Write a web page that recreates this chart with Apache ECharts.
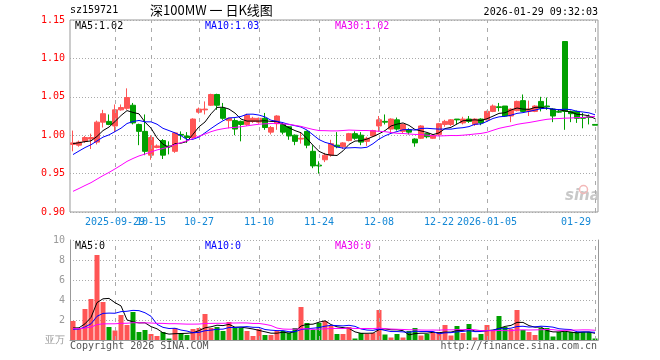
<!DOCTYPE html>
<html><head><meta charset="utf-8">
<script src="https://cdn.jsdelivr.net/npm/echarts@6/dist/echarts.min.js"></script>
<style>html,body{margin:0;padding:0;background:#fff}#c{width:660px;height:360px}</style>
</head><body><div id="c"></div>
<script>
const dates = [
 '2025-09-18','2025-09-19','2025-09-22','2025-09-23','2025-09-24','2025-09-25','2025-09-26','2025-09-29','2025-09-30',
 '2025-10-09','2025-10-10','2025-10-13','2025-10-14','2025-10-15','2025-10-16','2025-10-17','2025-10-20','2025-10-21','2025-10-22','2025-10-23','2025-10-24','2025-10-27','2025-10-28','2025-10-29','2025-10-30','2025-10-31',
 '2025-11-03','2025-11-04','2025-11-05','2025-11-06','2025-11-07','2025-11-10','2025-11-11','2025-11-12','2025-11-13','2025-11-14','2025-11-17','2025-11-18','2025-11-19','2025-11-20','2025-11-21','2025-11-24','2025-11-25','2025-11-26','2025-11-27','2025-11-28',
 '2025-12-01','2025-12-02','2025-12-03','2025-12-04','2025-12-05','2025-12-08','2025-12-09','2025-12-10','2025-12-11','2025-12-12','2025-12-15','2025-12-16','2025-12-17','2025-12-18','2025-12-19','2025-12-22','2025-12-23','2025-12-24','2025-12-25','2025-12-26','2025-12-29','2025-12-30','2025-12-31',
 '2026-01-05','2026-01-06','2026-01-07','2026-01-08','2026-01-09','2026-01-12','2026-01-13','2026-01-14','2026-01-15','2026-01-16','2026-01-19','2026-01-20','2026-01-21','2026-01-22','2026-01-23','2026-01-26','2026-01-27','2026-01-28','2026-01-29'
];
// [open, close, low, high]
const ohlc = [
 [0.988,0.990,0.979,1.006],[0.987,0.991,0.985,0.993],[0.992,0.997,0.990,0.999],[0.995,0.997,0.982,1.002],[0.991,1.017,0.988,1.019],
 [1.017,1.028,1.010,1.033],[1.018,1.014,1.013,1.027],[1.012,1.033,1.004,1.040],[1.033,1.036,1.032,1.040],[1.035,1.049,1.033,1.061],
 [1.039,1.016,1.014,1.042],[1.014,1.005,0.987,1.015],[1.005,0.979,0.974,1.027],[0.974,0.997,0.968,1.000],[0.984,0.986,0.983,0.988],
 [0.993,0.974,0.969,0.995],[0.986,0.985,0.975,0.992],[0.979,1.003,0.977,1.004],[1.001,1.000,0.994,1.005],[0.999,0.997,0.990,1.004],
 [0.997,1.021,0.996,1.022],[1.030,1.034,1.028,1.036],[1.033,1.034,1.027,1.044],[1.039,1.053,1.038,1.054],[1.053,1.039,1.033,1.054],
 [1.035,1.022,1.020,1.042],[1.019,1.022,1.009,1.023],[1.019,1.008,1.000,1.022],[1.018,1.014,0.992,1.019],[1.014,1.026,1.012,1.028],
 [1.018,1.022,1.016,1.024],[1.017,1.022,1.015,1.023],[1.022,1.010,1.007,1.029],[1.004,1.010,1.001,1.012],[1.015,1.025,1.007,1.026],
 [1.014,1.004,1.001,1.017],[1.011,0.999,0.994,1.012],[1.000,0.992,0.987,1.001],[0.995,0.996,0.989,1.003],[1.005,0.987,0.983,1.006],
 [0.979,0.960,0.957,0.987],[0.961,0.960,0.950,0.966],[0.968,0.974,0.965,0.977],[0.974,0.989,0.972,0.994],[0.987,0.985,0.983,1.004],
 [0.985,0.990,0.982,0.991],[0.993,1.002,0.992,1.003],[1.002,0.996,0.994,1.005],[1.000,0.991,0.987,1.004],[0.992,0.996,0.986,0.998],
 [0.999,1.006,0.998,1.007],[1.012,1.020,1.005,1.025],[1.018,1.017,1.014,1.027],[1.008,1.021,1.003,1.022],[1.020,1.008,1.006,1.023],
 [1.005,1.014,1.002,1.015],[1.007,1.004,1.001,1.009],[0.995,0.990,0.985,0.996],[0.996,1.012,0.995,1.013],[1.002,0.998,0.996,1.003],
 [0.996,1.000,0.995,1.001],[1.001,1.015,0.999,1.016],[1.014,1.018,1.011,1.020],[1.014,1.020,1.012,1.021],[1.021,1.020,1.014,1.021],
 [1.016,1.021,1.014,1.024],[1.021,1.018,1.016,1.025],[1.014,1.021,1.012,1.022],[1.021,1.016,1.013,1.022],[1.020,1.031,1.019,1.032],
 [1.031,1.038,1.030,1.040],[1.037,1.036,1.031,1.042],[1.038,1.025,1.024,1.038],[1.025,1.034,1.017,1.035],[1.032,1.044,1.031,1.045],
 [1.045,1.031,1.030,1.053],[1.031,1.034,1.025,1.045],[1.031,1.038,1.030,1.039],[1.044,1.035,1.031,1.050],[1.038,1.037,1.033,1.049],
 [1.034,1.025,1.017,1.035],[1.031,1.030,1.029,1.033],[1.122,1.031,1.007,1.122],[1.031,1.028,1.017,1.032],[1.031,1.022,1.016,1.032],
 [1.023,1.022,1.009,1.029],[1.024,1.023,1.014,1.027],[1.014,1.013,1.013,1.014]
];
// volume, 万
const volume = [
 1.9,1.1,3.1,4.1,8.5,3.8,1.3,0.95,2.5,1.5, 2.8,0.8,1.0,0.6,0.4,0.8,0.15,1.2,0.7,0.5,
 1.1,1.2,2.6,1.2,1.3,0.9,1.8,1.2,1.2,0.9, 0.4,1.1,0.5,0.5,0.9,0.9,0.7,1.2,3.3,1.7,
 1.0,1.7,1.9,1.4,0.6,0.6,1.3,0.15,0.7,0.6, 0.7,3.0,0.55,0.25,0.6,0.25,0.9,1.2,0.45,0.6,
 0.7,0.7,1.5,0.45,1.4,0.7,1.6,0.25,0.6,1.5, 1.0,2.4,1.3,1.1,3.0,1.0,0.8,0.5,1.2,1.2,
 0.35,0.8,0.8,0.8,0.8,0.8,0.8,0.15
];
// estimated history before the first shown day (for moving averages)
const priorCloses = [0.878,0.882,0.885,0.880,0.888,0.892,0.895,0.893,0.898,0.902,
 0.905,0.908,0.912,0.910,0.915,0.918,0.920,0.922,0.925,0.930,
 0.945,0.952,0.960,0.968,0.978,0.985,0.990,0.992,0.988];
const priorVolume = [1.2,1.0,1.3,1.1,1.4,1.2,0.9,1.1,1.3,1.2,
 1.0,1.2,1.1,1.3,1.0,1.2,1.1,1.3,1.2,1.1,
 0.9,1.0,0.9,1.0,0.9,1.0,1.1,0.9,1.1];
// tick labels, split into two rows so overlapping neighbours both show
const labelsA = {7:'2025-09-29',21:'10-27',41:'11-24',61:'12-22',87:'01-29'};
const labelsB = {13:'10-15',31:'11-10',51:'12-08',69:'2026-01-05'};

const UP = '#ff5555', DOWN = '#00a000';
const mono = "'DejaVu Sans Mono', monospace";
const LBL = '#1488d6';

function ma(full, n, offset) {
  const out = [];
  for (let i = offset; i < full.length; i++) {
    let s = 0;
    for (let k = i - n + 1; k <= i; k++) s += full[k];
    out.push(+(s / n).toFixed(4));
  }
  return out;
}
const closes = ohlc.map(d => d[1]);
const fullC = priorCloses.concat(closes);
const fullV = priorVolume.concat(volume);
const off = priorCloses.length;
const ma5 = ma(fullC, 5, off), ma10 = ma(fullC, 10, off), ma30 = ma(fullC, 30, off);
const vma5 = ma(fullV, 5, off), vma10 = ma(fullV, 10, off), vma30 = ma(fullV, 30, off);

const allLabels = Object.assign({}, labelsA, labelsB);
const vlines = Object.keys(allLabels).map(k => ({ xAxis: +k }));
const vlineStyle = { color: '#aaa', width: 1, type: [4, 5] };

function lineSeries(data, color, xi, yi) {
  return { type: 'line', data, xAxisIndex: xi, yAxisIndex: yi, symbol: 'none', smooth: false,
    lineStyle: { color, width: 1 }, silent: true, z: 5 };
}
function labelAxis(map) {
  return { type: 'category', gridIndex: 0, data: dates, boundaryGap: true, position: 'bottom', offset: 0,
    axisLine: { show: false }, axisTick: { show: false }, splitLine: { show: false },
    axisLabel: { interval: (i) => map[i] !== undefined, hideOverlap: false,
      formatter: (v, i) => i === 87 ? '{r|' + map[i] + '}' : map[i],
      color: LBL, fontFamily: mono, fontSize: 10, margin: 5,
      rich: { r: { color: LBL, fontFamily: mono, fontSize: 10, padding: [0, 38, 0, 0] } } } };
}

const chart = echarts.init(document.getElementById('c'));
chart.setOption({
  animation: false,
  backgroundColor: '#fff',
  grid: [
    { left: 70, top: 20, width: 528, height: 192, show: true, borderColor: '#999', borderWidth: 1, backgroundColor: 'transparent' },
    { left: 70, top: 240, width: 528, height: 100, show: false }
  ],
  xAxis: [
    labelAxis(labelsA),
    { type: 'category', gridIndex: 1, data: dates, boundaryGap: true, position: 'top',
      axisLine: { show: true, lineStyle: { color: '#999' } }, axisTick: { show: false },
      axisLabel: { show: false }, splitLine: { show: false } },
    labelAxis(labelsB)
  ],
  yAxis: [
    { type: 'value', gridIndex: 0, min: 0.90, max: 1.15, interval: 0.05,
      axisLine: { show: false }, axisTick: { show: false },
      axisLabel: { color: '#ff0000', fontFamily: mono, fontSize: 10, margin: 5, formatter: v => v.toFixed(2) },
      splitLine: { show: true, lineStyle: { color: '#aaa', type: [1, 2], width: 1 } } },
    { type: 'value', gridIndex: 1, min: 0, max: 10, interval: 2,
      axisLine: { show: true, lineStyle: { color: '#999' } }, axisTick: { show: false },
      axisLabel: { color: '#999', fontFamily: mono, fontSize: 10, margin: 5, formatter: v => v === 0 ? '亚万' : String(v) },
      splitLine: { show: true, lineStyle: { color: '#aaa', type: [1, 2], width: 1 } } },
    { type: 'value', gridIndex: 1, min: 0, max: 10, interval: 2, position: 'right',
      axisLine: { show: true, lineStyle: { color: '#999' } }, axisTick: { show: false },
      axisLabel: { show: false }, splitLine: { show: false } }
  ],
  series: [
    { type: 'candlestick', xAxisIndex: 0, yAxisIndex: 0, data: ohlc.map(d => [d[0], d[1], d[2], d[3]]),
      barWidth: 5, silent: true,
      itemStyle: { color: UP, color0: DOWN, borderColor: UP, borderColor0: DOWN, borderWidth: 1 },
      markLine: { silent: true, symbol: 'none', label: { show: false }, lineStyle: vlineStyle, data: vlines }, z: 3 },
    lineSeries(ma5, '#000000', 0, 0),
    lineSeries(ma10, '#0000ff', 0, 0),
    lineSeries(ma30, '#ff00ff', 0, 0),
    { type: 'bar', xAxisIndex: 1, yAxisIndex: 1, barWidth: 5, silent: true,
      data: volume.map((v, i) => ({ value: v, itemStyle: { color: ohlc[i][1] >= ohlc[i][0] ? UP : DOWN } })),
      markLine: { silent: true, symbol: 'none', label: { show: false }, lineStyle: vlineStyle, data: vlines }, z: 3 },
    lineSeries(vma5, '#000000', 1, 1),
    lineSeries(vma10, '#0000ff', 1, 1),
    lineSeries(vma30, '#ff00ff', 1, 1)
  ],
  graphic: [
    { type: 'text', left: 70, top: 5, style: { text: 'sz159721', font: '10px ' + mono, fill: '#000' } },
    { type: 'text', left: 150, top: 4, style: { text: '深100MW 一 日K线图', font: '13px "Noto Sans CJK SC", sans-serif', fill: '#000' } },
    { type: 'text', right: 62, top: 7, style: { text: '2026-01-29 09:32:03', font: '10px ' + mono, fill: '#000' } },
    { type: 'text', left: 75, top: 21, style: { text: 'MA5:' + ma5[ma5.length - 1].toFixed(2), font: '10px ' + mono, fill: '#000' } },
    { type: 'text', left: 205, top: 21, style: { text: 'MA10:' + ma10[ma10.length - 1].toFixed(2), font: '10px ' + mono, fill: '#0000ff' } },
    { type: 'text', left: 335, top: 21, style: { text: 'MA30:' + ma30[ma30.length - 1].toFixed(2), font: '10px ' + mono, fill: '#ee00ee' } },
    { type: 'text', left: 75, top: 241, style: { text: 'MA5:0', font: '10px ' + mono, fill: '#000' } },
    { type: 'text', left: 205, top: 241, style: { text: 'MA10:0', font: '10px ' + mono, fill: '#0000ff' } },
    { type: 'text', left: 335, top: 241, style: { text: 'MA30:0', font: '10px ' + mono, fill: '#ee00ee' } },
    { type: 'text', left: 70, top: 341, style: { text: 'Copyright 2026 SINA.COM', font: '10px ' + mono, fill: '#555' } },
    { type: 'text', right: 63, top: 341, style: { text: 'http://finance.sina.com.cn', font: '10px ' + mono, fill: '#555' } },
    { type: 'text', left: 565, top: 189, style: { text: 'sina', font: 'italic bold 15px "DejaVu Sans", sans-serif', fill: '#c8c8c8' } },
    { type: 'circle', left: 577, top: 183, shape: { r: 4 }, style: { fill: 'none', stroke: '#f3b8b8', lineWidth: 1.5 } }
  ]
});
</script></body></html>
